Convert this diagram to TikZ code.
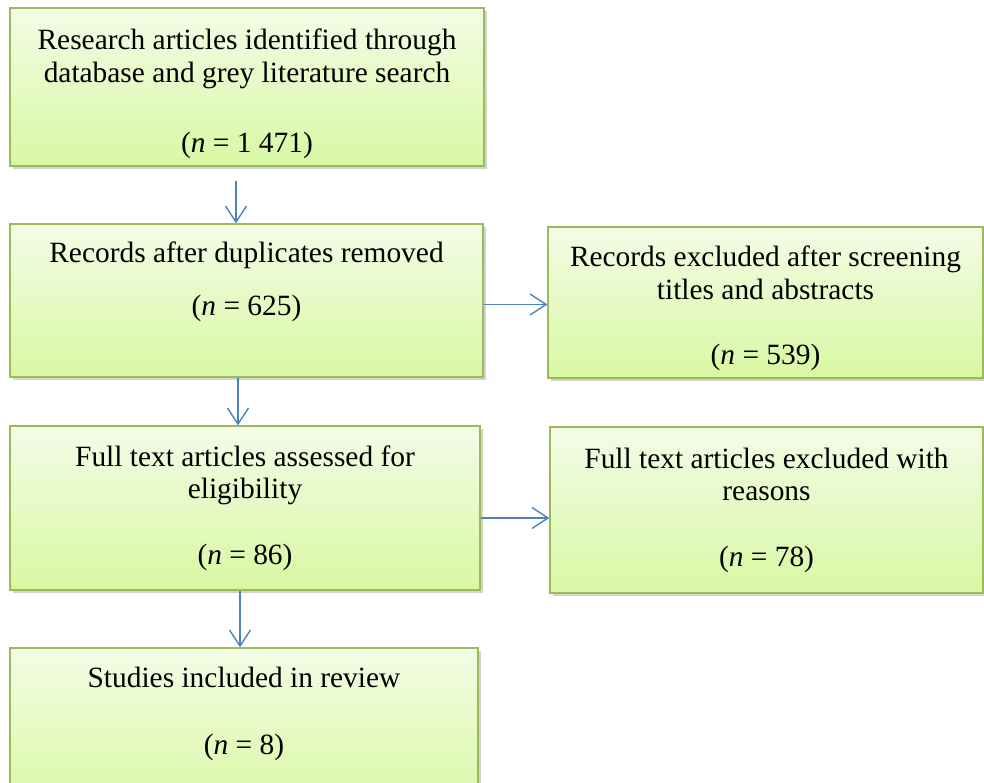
\documentclass[tikz,border=0pt]{standalone}
\usepackage{fontspec}
\setmainfont{Liberation Serif}
\usetikzlibrary{arrows.meta,shadows}
\definecolor{box_top}{RGB}{243,252,230}
\definecolor{box_bottom}{RGB}{216,248,163}
\definecolor{box_edge}{RGB}{155,187,89}
\definecolor{arrow_blue}{RGB}{79,129,189}

\begin{document}
\begin{tikzpicture}[->,line width=1.4pt,>={Straight Barb[length=16pt,width=21pt]},x=1pt,y=-1pt]
    \tikzstyle{stage}=[draw=box_edge, rectangle, top color=box_top, bottom color=box_bottom, align=center, inner sep=0pt, text=black, font=\fontsize{29.4}{32.5}\selectfont, drop shadow={shadow xshift=2.5pt,shadow yshift=-3pt,opacity=0.35}]
    \tikzstyle{flow}=[color=arrow_blue]

    \clip (0,0) rectangle (984,782);

    \node[stage, minimum width=474pt, minimum height=158pt] (ident) at (247,87)
      {\mbox{}\\[2pt]Research articles identified through\\database and grey literature search\\[38pt](\textit{n} = 1 471)};
    \node[stage, minimum width=473pt, minimum height=153pt] (dedup) at (246.5,300.5)
      {Records after duplicates removed\\[20pt](\textit{n} = 625)\\[11pt]~};
    \node[stage, minimum width=435pt, minimum height=151pt] (excl) at (765.5,302.5)
      {\mbox{}\\[0pt]Records excluded after screening\\titles and abstracts\\[33pt](\textit{n} = 539)};
    \node[stage, minimum width=470pt, minimum height=164pt] (full) at (245,508)
      {Full text articles assessed for\\eligibility\\[33pt](\textit{n} = 86)};
    \node[stage, minimum width=433pt, minimum height=166pt] (fullexcl) at (766.5,510)
      {Full text articles excluded with\\reasons\\[33pt](\textit{n} = 78)};
    \node[stage, minimum width=468pt, minimum height=164pt] (incl) at (244,730)
      {Studies included in review\\[34pt](\textit{n} = 8)\\[6pt]~};

    \path[flow]
     ([xshift=-11pt,yshift=-14pt]ident.south) edge ([xshift=-10.5pt]dedup.north)
     ([xshift=-8.5pt]dedup.south) edge ([xshift=-7pt]full.north)
     ([xshift=-5pt]full.south) edge ([xshift=-4pt]incl.north)
     ([yshift=-4pt]dedup.east) edge ([yshift=-2pt]excl.west)
     ([yshift=-10pt]full.east) edge ([yshift=-8pt]fullexcl.west);
\end{tikzpicture}
\end{document}
